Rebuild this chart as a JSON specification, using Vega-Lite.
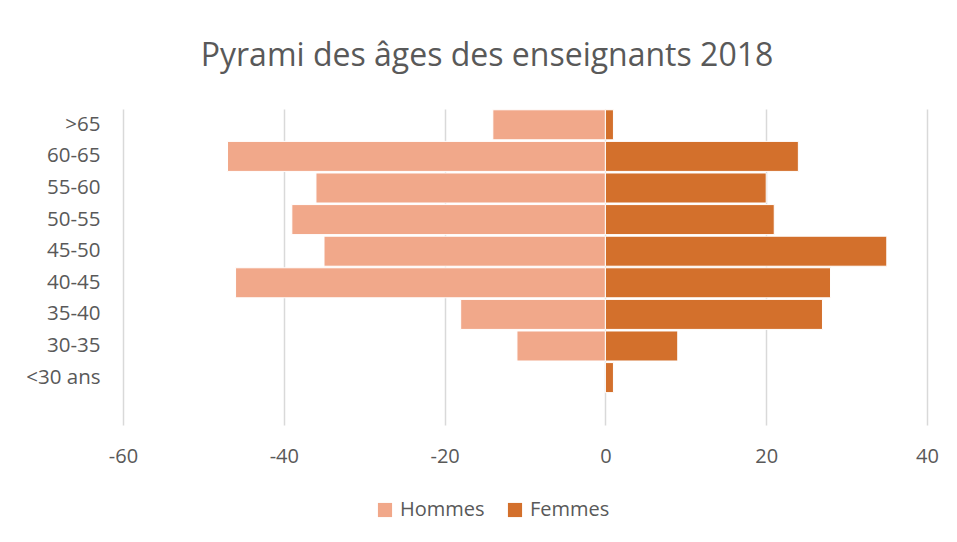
{
  "$schema": "https://vega.github.io/schema/vega-lite/v6.json",
  "autosize": {"type": "none"},
  "width": 804,
  "height": 316,
  "padding": {"left": 123, "top": 109, "right": 30, "bottom": 117},
  "background": "white",
  "title": {
    "text": "Pyrami des âges des enseignants 2018",
    "font": "Open Sans",
    "fontSize": 32,
    "fontWeight": "normal",
    "color": "#595959",
    "anchor": "middle",
    "dx": -38,
    "offset": 36
  },
  "data": {
    "values": [
      {"age": ">65", "sexe": "Hommes", "valeur": -14},
      {"age": "60-65", "sexe": "Hommes", "valeur": -47},
      {"age": "55-60", "sexe": "Hommes", "valeur": -36},
      {"age": "50-55", "sexe": "Hommes", "valeur": -39},
      {"age": "45-50", "sexe": "Hommes", "valeur": -35},
      {"age": "40-45", "sexe": "Hommes", "valeur": -46},
      {"age": "35-40", "sexe": "Hommes", "valeur": -18},
      {"age": "30-35", "sexe": "Hommes", "valeur": -11},
      {"age": "<30 ans", "sexe": "Hommes", "valeur": 0},
      {"age": ">65", "sexe": "Femmes", "valeur": 1},
      {"age": "60-65", "sexe": "Femmes", "valeur": 24},
      {"age": "55-60", "sexe": "Femmes", "valeur": 20},
      {"age": "50-55", "sexe": "Femmes", "valeur": 21},
      {"age": "45-50", "sexe": "Femmes", "valeur": 35},
      {"age": "40-45", "sexe": "Femmes", "valeur": 28},
      {"age": "35-40", "sexe": "Femmes", "valeur": 27},
      {"age": "30-35", "sexe": "Femmes", "valeur": 9},
      {"age": "<30 ans", "sexe": "Femmes", "valeur": 1}
    ]
  },
  "mark": {"type": "bar", "stroke": "white", "strokeWidth": 1},
  "encoding": {
    "y": {
      "field": "age",
      "type": "nominal",
      "scale": {
        "domain": [">65", "60-65", "55-60", "50-55", "45-50", "40-45", "35-40", "30-35", "<30 ans", ""],
        "paddingInner": 0.05,
        "paddingOuter": 0.025
      },
      "axis": {
        "title": null,
        "ticks": false,
        "domain": false,
        "grid": false,
        "labelFont": "Open Sans",
        "labelFontSize": 20.5,
        "labelColor": "#595959",
        "labelPadding": 23
      }
    },
    "x": {
      "field": "valeur",
      "type": "quantitative",
      "stack": null,
      "scale": {"domain": [-60, 40], "nice": false},
      "axis": {
        "title": null,
        "values": [-60, -40, -20, 0, 20, 40],
        "labelExpr": "replace(datum.label, '−', '-')",
        "labelFlush": false,
        "ticks": false,
        "domain": false,
        "grid": true,
        "gridColor": "#D9D9D9",
        "gridWidth": 1.5,
        "labelFont": "Open Sans",
        "labelFontSize": 20,
        "labelColor": "#595959",
        "labelPadding": 21
      }
    },
    "color": {
      "field": "sexe",
      "type": "nominal",
      "scale": {"domain": ["Hommes", "Femmes"], "range": ["#F1A88A", "#D3702C"]},
      "legend": {
        "title": null,
        "orient": "none",
        "direction": "horizontal",
        "legendX": 252,
        "legendY": 391,
        "symbolType": "square",
        "symbolSize": 200,
        "symbolStrokeWidth": 0,
        "labelFont": "Open Sans",
        "labelFontSize": 20,
        "labelColor": "#595959",
        "columnPadding": 20,
        "labelOffset": 5
      }
    }
  },
  "config": {"view": {"stroke": null}}
}
